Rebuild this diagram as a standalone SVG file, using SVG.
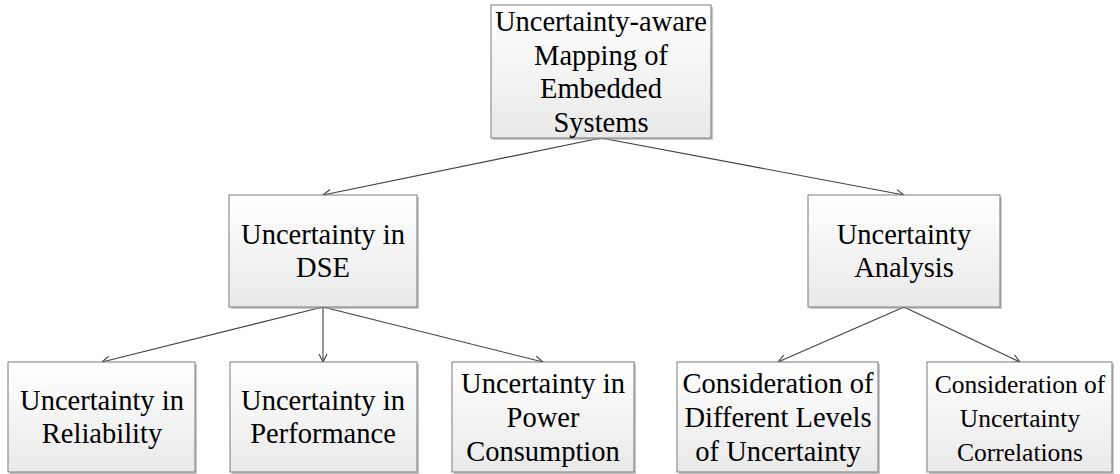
<svg xmlns="http://www.w3.org/2000/svg" width="1120" height="474" viewBox="0 0 1120 474">
<defs>
<linearGradient id="g" x1="0" y1="0" x2="0" y2="1">
<stop offset="0" stop-color="#ffffff"/>
<stop offset="1" stop-color="#e9e9e9"/>
</linearGradient>
<marker id="ah" viewBox="0 0 10 10" refX="9" refY="5" markerWidth="10" markerHeight="10" markerUnits="userSpaceOnUse" orient="auto">
<path d="M1,1 L9,5 L1,9" fill="none" stroke="#404040" stroke-width="1.1"/>
</marker>
</defs>
<style>
.box{fill:url(#g);stroke:#7a7a7a;stroke-width:1}
.sh{fill:#9a9a9a;opacity:0.55}
text{font-family:"Liberation Serif","Times New Roman",serif;font-size:28.5px;fill:#000;text-anchor:middle}
.sm{font-size:25.5px}
.c{stroke:#404040;stroke-width:1.1;fill:none;marker-end:url(#ah)}
</style>
<g id="connectors">
<line class="c" x1="601" y1="138" x2="323" y2="195"/>
<line class="c" x1="601" y1="138" x2="904" y2="195"/>
<line class="c" x1="323" y1="307" x2="102" y2="362"/>
<line class="c" x1="323" y1="307" x2="323" y2="362"/>
<line class="c" x1="323" y1="307" x2="543" y2="362"/>
<line class="c" x1="904" y1="307" x2="778" y2="362"/>
<line class="c" x1="904" y1="307" x2="1020" y2="362"/>
</g>
<g id="root">
<rect class="sh" x="493" y="7" width="220" height="133"/>
<rect class="box" x="491" y="5" width="220" height="133"/>
<text x="601" y="31">Uncertainty-aware</text>
<text x="601" y="64.5">Mapping of</text>
<text x="601" y="98">Embedded</text>
<text x="601" y="131.5">Systems</text>
</g>
<g id="dse">
<rect class="sh" x="231" y="197" width="188" height="112"/>
<rect class="box" x="229" y="195" width="188" height="112"/>
<text x="323" y="244">Uncertainty in</text>
<text x="323" y="277">DSE</text>
</g>
<g id="analysis">
<rect class="sh" x="810" y="197" width="192" height="112"/>
<rect class="box" x="808" y="195" width="192" height="112"/>
<text x="904" y="244">Uncertainty</text>
<text x="904" y="277">Analysis</text>
</g>
<g id="reliability">
<rect class="sh" x="10" y="364" width="187" height="110"/>
<rect class="box" x="8" y="362" width="187" height="110"/>
<text x="102" y="410">Uncertainty in</text>
<text x="102" y="443">Reliability</text>
</g>
<g id="performance">
<rect class="sh" x="232" y="364" width="187" height="110"/>
<rect class="box" x="230" y="362" width="187" height="110"/>
<text x="323" y="410">Uncertainty in</text>
<text x="323" y="443">Performance</text>
</g>
<g id="power">
<rect class="sh" x="454" y="364" width="182" height="110"/>
<rect class="box" x="452" y="362" width="182" height="110"/>
<text x="543" y="393">Uncertainty in</text>
<text x="543" y="427">Power</text>
<text x="543" y="461">Consumption</text>
</g>
<g id="levels">
<rect class="sh" x="679" y="364" width="201" height="110"/>
<rect class="box" x="677" y="362" width="201" height="110"/>
<text x="778" y="393">Consideration of</text>
<text x="778" y="427">Different Levels</text>
<text x="778" y="461">of Uncertainty</text>
</g>
<g id="correlations">
<rect class="sh" x="929" y="364" width="185" height="110"/>
<rect class="box" x="927" y="362" width="185" height="110"/>
<text class="sm" x="1020" y="393">Consideration of</text>
<text class="sm" x="1020" y="427">Uncertainty</text>
<text class="sm" x="1020" y="461">Correlations</text>
</g>
</svg>
